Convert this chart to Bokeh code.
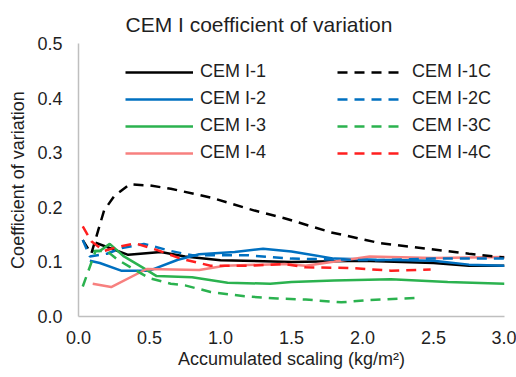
from bokeh.plotting import figure
from bokeh.models import Legend, LegendItem, Range1d, FixedTicker, CustomJSTickFormatter
from bokeh.embed import file_html
from bokeh.resources import INLINE

# ---- data ----
i1_x = [0.12, 0.35, 0.58, 0.75, 1.0, 1.5, 2.0, 2.5, 2.75, 3.0]
i1_y = [0.135, 0.113, 0.118, 0.11, 0.103, 0.100, 0.102, 0.098, 0.093, 0.093]

i2_x = [0.08, 0.15, 0.3, 0.5, 0.7, 0.85, 1.1, 1.3, 1.5, 1.8, 2.1, 2.5, 2.75, 3.0]
i2_y = [0.102, 0.098, 0.084, 0.084, 0.104, 0.114, 0.118, 0.124, 0.119, 0.106, 0.104, 0.102, 0.095, 0.093]

i3_x = [0.1, 0.15, 0.22, 0.32, 0.45, 0.55, 0.8, 1.05, 1.35, 1.5, 1.8, 2.2, 2.6, 3.0]
i3_y = [0.12, 0.12, 0.133, 0.11, 0.09, 0.074, 0.072, 0.062, 0.060, 0.063, 0.066, 0.068, 0.063, 0.060]

i4_x = [0.1, 0.23, 0.48, 0.85, 1.03, 1.45, 1.6, 2.05, 2.5, 3.0]
i4_y = [0.06, 0.054, 0.087, 0.085, 0.093, 0.096, 0.093, 0.110, 0.107, 0.109]

i1c_x = [0.03, 0.09, 0.18, 0.25, 0.36, 0.5, 0.65, 0.93, 1.24, 1.45, 1.78, 2.13, 2.46, 2.75, 3.0]
i1c_y = [0.14, 0.115, 0.194, 0.22, 0.242, 0.240, 0.234, 0.218, 0.194, 0.180, 0.154, 0.134, 0.124, 0.115, 0.108]

i2c_x = [0.03, 0.08, 0.2, 0.3, 0.46, 0.65, 0.8, 1.2, 1.5, 2.1, 2.5, 3.0]
i2c_y = [0.14, 0.11, 0.115, 0.125, 0.133, 0.12, 0.112, 0.112, 0.106, 0.103, 0.106, 0.106]

i3c_x = [0.03, 0.12, 0.2, 0.27, 0.4, 0.5, 0.65, 0.75, 0.93, 1.17, 1.4, 1.6, 1.85, 2.05, 2.37]
i3c_y = [0.055, 0.12, 0.12, 0.105, 0.085, 0.07, 0.06, 0.057, 0.045, 0.037, 0.033, 0.031, 0.026, 0.030, 0.034]

i4c_x = [0.03, 0.09, 0.18, 0.27, 0.4, 0.55, 0.72, 0.93, 1.2, 1.45, 1.6, 1.9, 2.2, 2.48]
i4c_y = [0.165, 0.138, 0.12, 0.127, 0.134, 0.122, 0.106, 0.093, 0.093, 0.096, 0.090, 0.089, 0.084, 0.086]

names = ["CEM I-1", "CEM I-2", "CEM I-3", "CEM I-4",
         "CEM I-1C", "CEM I-2C", "CEM I-3C", "CEM I-4C"]
x_ticks = [0.0, 0.5, 1.0, 1.5, 2.0, 2.5, 3.0]
y_ticks = [0.0, 0.1, 0.2, 0.3, 0.4, 0.5]

FONT = "Liberation Sans"
TXT = "#1f1f1f"
colors = ["#000000", "#0070c0", "#2bb24f", "#f7807f"]
colors_c = ["#000000", "#0070c0", "#2bb24f", "#ff1f1f"]

p = figure(frame_width=426, frame_height=273, output_backend="svg",
           toolbar_location=None, min_border_left=78, min_border_right=12,
           min_border_top=43, min_border_bottom=61,
           x_range=Range1d(0, 3.0), y_range=Range1d(0, 0.5),
           title="CEM I coefficient of variation")

p.title.text_font = FONT
p.title.text_font_size = "21px"
p.title.text_font_style = "normal"
p.title.text_color = TXT
p.title.align = "left"
p.title.offset = 47
p.title.standoff = 16

p.outline_line_color = None
p.grid.grid_line_color = None
p.background_fill_color = "white"

fmt = CustomJSTickFormatter(code="return tick.toFixed(1);")
for ax, ticks in ((p.xaxis[0], x_ticks), (p.yaxis[0], y_ticks)):
    ax.ticker = FixedTicker(ticks=ticks)
    ax.formatter = fmt
    ax.axis_line_color = "#bfbfbf"
    ax.axis_line_width = 1.5
    ax.major_tick_line_color = None
    ax.minor_tick_line_color = None
    ax.major_tick_out = 0
    ax.major_tick_in = 0
    ax.major_label_text_font = FONT
    ax.major_label_text_font_size = "18px"
    ax.major_label_text_color = TXT
    ax.axis_label_text_font = FONT
    ax.axis_label_text_font_size = "18px"
    ax.axis_label_text_font_style = "normal"
    ax.axis_label_text_color = TXT

p.xaxis[0].axis_label = "Accumulated scaling (kg/m²)"
p.yaxis[0].axis_label = "Coefficient of variation"
p.xaxis[0].major_label_standoff = 14
p.yaxis[0].major_label_standoff = 16
p.xaxis[0].axis_label_standoff = 2
p.yaxis[0].axis_label_standoff = 6

solid = [(i1_x, i1_y), (i2_x, i2_y), (i3_x, i3_y), (i4_x, i4_y)]
dashed = [(i1c_x, i1c_y), (i2c_x, i2c_y), (i3c_x, i3c_y), (i4c_x, i4c_y)]

r_solid = []
for (xs, ys), c in zip(solid, colors):
    r_solid.append(p.line(xs, ys, line_color=c, line_width=2.5))
r_dash = []
for (xs, ys), c in zip(dashed, colors_c):
    r_dash.append(p.line(xs, ys, line_color=c, line_width=2.5, line_dash="10 7"))

def make_legend(renderers, labels, loc, gw, standoff):
    lg = Legend(items=[LegendItem(label=l, renderers=[r]) for l, r in zip(labels, renderers)],
                location=loc, orientation="vertical")
    lg.glyph_width = gw
    lg.glyph_height = 20
    lg.label_height = 20
    lg.label_standoff = standoff
    lg.spacing = 6
    lg.padding = 0
    lg.margin = 0
    lg.border_line_color = None
    lg.background_fill_alpha = 0
    lg.label_text_font = FONT
    lg.label_text_font_size = "18px"
    lg.label_text_color = TXT
    return lg

p.add_layout(make_legend(r_solid, names[:4], (47, 153), 68, 7), "center")
p.add_layout(make_legend(r_dash, names[4:], (259, 153), 63, 12), "center")

open("out.html", "w").write(file_html(p, INLINE))
